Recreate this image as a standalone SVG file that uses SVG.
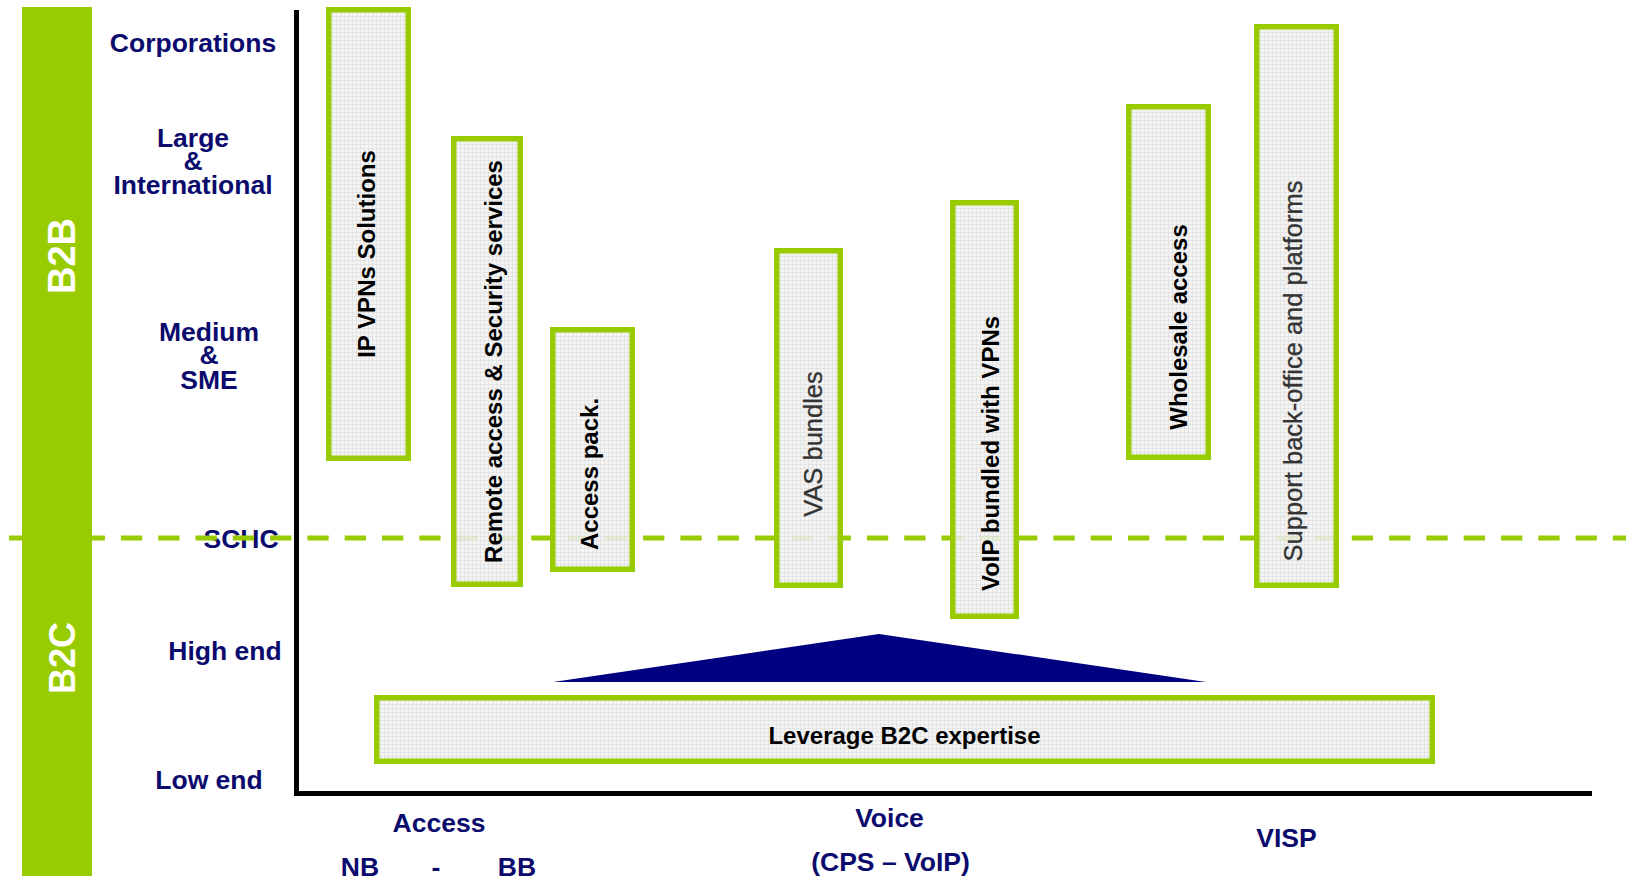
<svg xmlns="http://www.w3.org/2000/svg" width="1632" height="883" viewBox="0 0 1632 883">
  <defs>
    <!-- fine grey grid used as the fill of every offer box -->
    <pattern id="grid" width="4" height="4" patternUnits="userSpaceOnUse">
      <rect width="4" height="4" fill="#f2f2f2" fill-opacity="0.86"/>
      <path d="M0 0.5H4M0.5 0V4" stroke="#d6d6d6" stroke-width="0.6" stroke-opacity="0.8"/>
    </pattern>
    <style>
      .lbl { font-family: "Liberation Sans", Arial, sans-serif; font-weight: bold; font-size: 26.5px; fill: #0b0b6e; text-anchor: middle; }
      .seg { font-family: "Liberation Sans", Arial, sans-serif; font-weight: bold; fill: #ffffff; text-anchor: middle; }
      .box { fill: url(#grid); stroke: #99cc00; stroke-width: 5.5; }
      .bt  { font-family: "Liberation Sans", Arial, sans-serif; font-weight: bold; font-size: 24px; fill: #000000; text-anchor: middle; }
      .bt2 { font-family: "Liberation Sans", Arial, sans-serif; font-weight: normal; font-size: 25.5px; fill: #333333; stroke: #333333; stroke-width: 0.3; text-anchor: middle; }
    </style>
  </defs>

  <rect width="1632" height="883" fill="#ffffff"/>

  <!-- segment bar -->
  <g id="segment-bar">
    <rect x="22" y="7" width="70" height="869" fill="#99cc00"/>
    <text class="seg" font-size="38" transform="translate(75,256) rotate(-90)">B2B</text>
    <text class="seg" font-size="36" transform="translate(75,658) rotate(-90)">B2C</text>
  </g>

  <!-- customer segment labels -->
  <g id="y-labels">
    <text class="lbl" x="193" y="52">Corporations</text>
    <text class="lbl" x="193" y="147">Large</text>
    <text class="lbl" x="193" y="170">&amp;</text>
    <text class="lbl" x="193" y="194">International</text>
    <text class="lbl" x="209" y="341">Medium</text>
    <text class="lbl" x="209" y="364">&amp;</text>
    <text class="lbl" x="209" y="389">SME</text>
    <text class="lbl" x="241" y="548">SCHC</text>
    <text class="lbl" x="225" y="660">High end</text>
    <text class="lbl" x="209" y="789">Low end</text>
  </g>

  <!-- offer labels -->
  <g id="x-labels">
    <text class="lbl" x="439" y="832">Access</text>
    <text class="lbl" x="360" y="876">NB</text>
    <text class="lbl" x="436" y="876">-</text>
    <text class="lbl" x="517" y="876">BB</text>
    <text class="lbl" x="889.5" y="827">Voice</text>
    <text class="lbl" x="890.5" y="871">(CPS – VoIP)</text>
    <text class="lbl" x="1286.5" y="847">VISP</text>
  </g>

  <!-- axes and B2B / B2C divider -->
  <g id="connectors">
    <path d="M296.5 10V793.5H1592" fill="none" stroke="#000000" stroke-width="5"/>
    <line x1="9" y1="538" x2="1626" y2="538" stroke="#99cc00" stroke-width="5" stroke-dasharray="21.3 16"/>
    <polygon points="553,682 879,634 1206,682" fill="#000080"/>
  </g>

  <g id="ip-vpn">
    <rect class="box" x="328.75" y="9.75" width="79.5" height="448.5"/>
    <text class="bt" transform="translate(375,254) rotate(-90)">IP VPNs Solutions</text>
  </g>

  <g id="remote-access">
    <rect class="box" x="453.75" y="138.75" width="66.5" height="445.5"/>
    <text class="bt" transform="translate(502,361.5) rotate(-90)">Remote access &amp; Security services</text>
  </g>

  <g id="access-pack">
    <rect class="box" x="552.75" y="329.75" width="79.5" height="239.5"/>
    <text class="bt" transform="translate(598,474) rotate(-90)">Access pack.</text>
  </g>

  <g id="vas-bundles">
    <rect class="box" x="776.75" y="250.75" width="63.5" height="334.5"/>
    <text class="bt2" transform="translate(822,444) rotate(-90)">VAS bundles</text>
  </g>

  <g id="voip-vpn">
    <rect class="box" x="952.75" y="202.75" width="63.5" height="413.5"/>
    <text class="bt" transform="translate(999,453.5) rotate(-90)">VoIP bundled with VPNs</text>
  </g>

  <g id="wholesale">
    <rect class="box" x="1128.75" y="106.75" width="79.5" height="350.5"/>
    <text class="bt" transform="translate(1187,327) rotate(-90)">Wholesale access</text>
  </g>

  <g id="support">
    <rect class="box" x="1256.75" y="26.75" width="79.5" height="558.5"/>
    <text class="bt2" transform="translate(1302,371) rotate(-90)">Support back-office and platforms</text>
  </g>

  <g id="leverage">
    <rect class="box" x="376.75" y="697.75" width="1055.5" height="63.5"/>
    <text class="bt" x="904.5" y="744">Leverage B2C expertise</text>
  </g>
</svg>
